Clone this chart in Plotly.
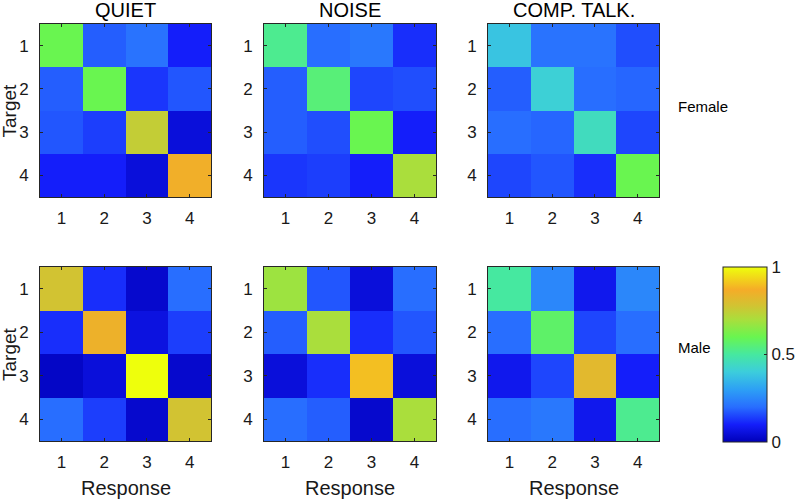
import plotly.graph_objects as go

labels = [1, 2, 3, 4]
conditions = ["QUIET", "NOISE", "COMP. TALK."]
genders = ["Female", "Male"]

female_quiet = [[0.60, 0.18, 0.21, 0.10],
                [0.18, 0.60, 0.13, 0.17],
                [0.17, 0.14, 0.75, 0.05],
                [0.10, 0.10, 0.05, 0.86]]
female_noise = [[0.52, 0.20, 0.22, 0.12],
                [0.18, 0.55, 0.15, 0.16],
                [0.18, 0.16, 0.60, 0.10],
                [0.13, 0.14, 0.10, 0.70]]
female_comp = [[0.38, 0.21, 0.21, 0.16],
               [0.18, 0.41, 0.20, 0.19],
               [0.20, 0.19, 0.45, 0.15],
               [0.15, 0.17, 0.12, 0.60]]
male_quiet = [[0.78, 0.12, 0.03, 0.20],
              [0.12, 0.85, 0.06, 0.14],
              [0.02, 0.05, 1.00, 0.03],
              [0.20, 0.14, 0.03, 0.78]]
male_noise = [[0.68, 0.17, 0.05, 0.20],
              [0.18, 0.70, 0.12, 0.17],
              [0.05, 0.12, 0.90, 0.05],
              [0.20, 0.18, 0.03, 0.70]]
male_comp = [[0.50, 0.25, 0.08, 0.25],
             [0.20, 0.57, 0.15, 0.20],
             [0.08, 0.15, 0.82, 0.10],
             [0.20, 0.22, 0.08, 0.52]]

matrices = [[female_quiet, female_noise, female_comp],
            [male_quiet, male_noise, male_comp]]

colorscale = [
    [0.00, "rgb(0,0,185)"],
    [0.10, "rgb(20,30,250)"],
    [0.20, "rgb(40,110,255)"],
    [0.30, "rgb(45,160,245)"],
    [0.40, "rgb(60,205,220)"],
    [0.50, "rgb(70,232,160)"],
    [0.60, "rgb(105,245,80)"],
    [0.70, "rgb(170,222,60)"],
    [0.78, "rgb(210,195,50)"],
    [0.87, "rgb(245,172,40)"],
    [1.00, "rgb(238,255,12)"],
]

W, H = 796, 499
xdom_px = [(40, 211), (264, 436), (488, 659)]
ydom_px = [(24, 197), (267, 441)]
gender_label_y = [106, 347]

fig = go.Figure()
font = "Liberation Sans, Arial, sans-serif"
axcol = "rgb(38,38,38)"
txtcol = "rgb(25,25,25)"

k = 0
for r in range(2):
    for c in range(3):
        k += 1
        suffix = "" if k == 1 else str(k)
        fig.add_trace(go.Heatmap(
            z=matrices[r][c], x=labels, y=labels,
            coloraxis="coloraxis",
            xaxis="x" + suffix, yaxis="y" + suffix,
            hovertemplate="Response %{x}<br>Target %{y}<br>%{z}<extra></extra>",
        ))
        x0, x1 = xdom_px[c]
        y0, y1 = ydom_px[r]
        common = dict(
            showgrid=False, zeroline=False, showline=True, mirror="ticks",
            linecolor=axcol, linewidth=1, ticks="inside", ticklen=3,
            tickcolor=axcol, tickfont=dict(family=font, size=17, color=txtcol),
            tickvals=labels, ticktext=[str(v) for v in labels],
            automargin=False,
        )
        fig.layout["xaxis" + suffix] = dict(
            domain=[x0 / W, x1 / W], anchor="y" + suffix,
            range=[0.5, 4.5], ticklabelstandoff=6, **common)
        fig.layout["yaxis" + suffix] = dict(
            domain=[1 - y1 / H, 1 - y0 / H], anchor="x" + suffix,
            range=[4.5, 0.5], ticklabelstandoff=7, **common)

fig.update_layout(
    width=W, height=H,
    margin=dict(l=0, r=0, t=0, b=0, autoexpand=False),
    paper_bgcolor="white", plot_bgcolor="white",
    font=dict(family=font, color=txtcol),
    coloraxis=dict(
        cmin=0, cmax=1, colorscale=colorscale,
        colorbar=dict(
            x=723 / W, xanchor="left", y=1 - 442 / H, yanchor="bottom",
            len=175 / H, lenmode="fraction", thickness=44, thicknessmode="pixels",
            outlinecolor=axcol, outlinewidth=1,
            tickvals=[0, 0.5, 1], ticktext=["0", "0.5", "1"],
            ticks="inside", ticklen=3, tickcolor=axcol,
            tickfont=dict(family=font, size=17, color=txtcol),
            xpad=0, ypad=0,
        ),
    ),
)

annotations = []
for c, name in enumerate(conditions):
    xc = (xdom_px[c][0] + xdom_px[c][1]) / 2 / W
    annotations.append(dict(text=name, x=xc, y=1 - 10 / H, xref="paper", yref="paper",
                            xanchor="center", yanchor="middle", showarrow=False,
                            font=dict(size=20, family=font, color="black")))
    annotations.append(dict(text="Response", x=xc, y=1 - 488 / H, xref="paper", yref="paper",
                            xanchor="center", yanchor="middle", showarrow=False,
                            font=dict(size=20, family=font, color=txtcol)))
for r, g in enumerate(genders):
    yc = 1 - (ydom_px[r][0] + ydom_px[r][1]) / 2 / H
    annotations.append(dict(text="Target", x=9 / W, y=yc, xref="paper", yref="paper",
                            xanchor="center", yanchor="middle",
                            textangle=-90, showarrow=False,
                            font=dict(size=19, family=font, color=txtcol)))
    annotations.append(dict(text=g, x=676 / W, y=1 - gender_label_y[r] / H,
                            xref="paper", yref="paper",
                            xanchor="left", yanchor="middle", showarrow=False,
                            font=dict(size=15, family=font, color="black")))
fig.update_layout(annotations=annotations)

fig.write_html("out.html", config={"displayModeBar": False},
               post_script="document.body.style.margin='0';document.body.style.overflow='hidden';")
